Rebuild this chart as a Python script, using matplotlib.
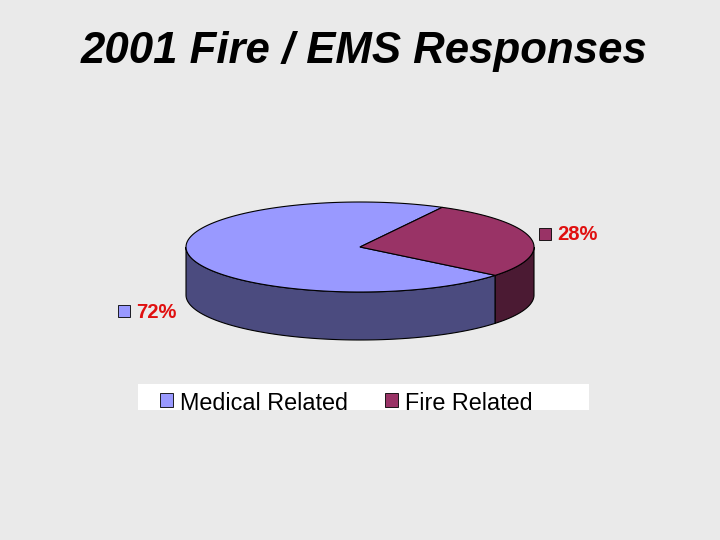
import numpy as np
import matplotlib.pyplot as plt
from matplotlib.patches import Polygon, Rectangle

title = "2001 Fire / EMS Responses"
categories = ['Medical Related', 'Fire Related']
values = [72, 28]
pct_labels = ['72%', '28%']
top_colors = ['#9999ff', '#993366']
side_colors = ['#4b4b7f', '#4b1a33']

fig = plt.figure(figsize=(7.2, 5.4), dpi=100)
fig.patch.set_facecolor('#eaeaea')
ax = fig.add_axes([0, 0, 1, 1])
ax.set_xlim(0, 720)
ax.set_ylim(540, 0)
ax.axis('off')

cx, cy, rx, ry, depth = 360, 247, 174, 45, 48
fire_start = -39.0
total = float(sum(values))
spans = [v / total * 360 for v in values]
# angle ranges (degrees, counter-clockwise)
ranges = [(fire_start + spans[1], fire_start + 360), (fire_start, fire_start + spans[1])]


def pts(t0, t1, dy=0.0, n=120):
    t = np.radians(np.linspace(t0, t1, n))
    return np.column_stack([cx + rx * np.cos(t), cy - ry * np.sin(t) + dy])


# side walls (front half only: 180..360 deg)
for (a, b), sc in zip(ranges, side_colors):
    for off in (0, 360, -360):
        lo = max(a + off, 180)
        hi = min(b + off, 360)
        if hi > lo:
            top = pts(lo, hi)
            bot = pts(lo, hi, depth)[::-1]
            ax.add_patch(Polygon(np.vstack([top, bot]), closed=True, facecolor=sc,
                                 edgecolor='black', linewidth=0.8, zorder=2))

# top faces
for (a, b), tc in zip(ranges, top_colors):
    arc = pts(a, b)
    poly = np.vstack([[cx, cy], arc])
    ax.add_patch(Polygon(poly, closed=True, facecolor=tc, edgecolor='black',
                         linewidth=0.8, zorder=3))

# percent labels with small keys
label_pos = [(124, 311), (545, 234)]
for (lx, ly), col, txt in zip(label_pos, top_colors, pct_labels):
    ax.add_patch(Rectangle((lx - 6, ly - 6), 12, 12, facecolor=col, edgecolor='black',
                           linewidth=0.6, zorder=4))
    ax.text(lx + 12, ly + 1, txt, color='#e01010', fontsize=14.5, fontweight='bold',
            family='Liberation Sans', va='center', ha='left', zorder=4)

# legend
ax.add_patch(Rectangle((138, 384), 451, 26, facecolor='white', edgecolor='none', zorder=1))
leg_x = [160, 385]
for x0, col, cat in zip(leg_x, top_colors, categories):
    ax.add_patch(Rectangle((x0, 393), 13, 14, facecolor=col, edgecolor='black',
                           linewidth=0.6, zorder=4))
    ax.text(x0 + 20, 403.5, cat, fontsize=16.8, family='Liberation Sans', color='black',
            va='center', ha='left', zorder=4)

ax.text(364, 51, title, fontsize=31.5, fontweight='bold', fontstyle='italic',
        family='Liberation Sans', ha='center', va='center')

fig.savefig('out.png', dpi=100, facecolor=fig.get_facecolor())
